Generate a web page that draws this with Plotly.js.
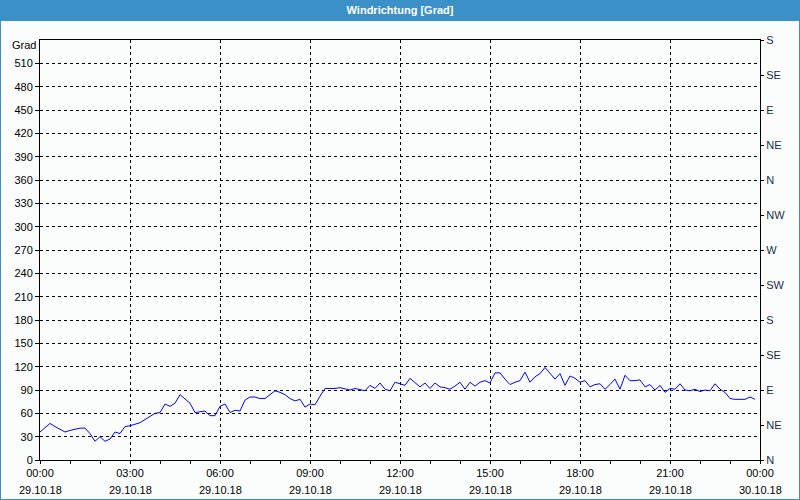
<!DOCTYPE html>
<html>
<head>
<meta charset="utf-8">
<script src="https://cdn.plot.ly/plotly-3.0.1.min.js"></script>
<style>
html,body{margin:0;padding:0;background:#fbfdfd;}
#chart{width:800px;height:500px;}
</style>
</head>
<body>
<div id="chart"></div>
<script>
// Wind direction every 10 minutes, 29.10.18 00:00 .. 23:50
const directionValues = [
  36,41,47,43,39,36,38,40,41,41,
  34,24,30,24,27,36,34,43,44,46,
  48,52,56,60,61,72,69,73,84,79,
  73,61,62,63,57,57,69,72,61,64,
  63,77,81,81,79,79,84,89,87,84,
  79,76,78,68,72,71,82,92,92,92,
  93,91,90,92,90,89,96,92,99,91,
  89,100,98,96,105,100,94,99,92,99,
  94,93,91,95,100,91,100,95,100,102,
  99,112,112,104,97,100,102,113,100,107,
  111,119,112,104,111,96,108,105,100,102,
  94,97,98,91,97,104,91,109,102,102,
  103,94,97,90,96,87,92,91,98,90,
  89,91,88,90,89,98,91,87,79,78,
  78,78,81,78
];
const startDay = '2018-10-29';
const stepMinutes = 10;

const tickTimes = ['2018-10-29 00:00','2018-10-29 03:00','2018-10-29 06:00','2018-10-29 09:00','2018-10-29 12:00','2018-10-29 15:00','2018-10-29 18:00','2018-10-29 21:00','2018-10-30 00:00'];
const timeLabels = ['00:00','03:00','06:00','09:00','12:00','15:00','18:00','21:00','00:00'];
const dateLabels = ['29.10.18','29.10.18','29.10.18','29.10.18','29.10.18','29.10.18','29.10.18','29.10.18','30.10.18'];
const gradTicks = [0,30,60,90,120,150,180,210,240,270,300,330,360,390,420,450,480,510];
const compassVals = [0,45,90,135,180,225,270,315,360,405,450,495,540];
const compassLabels = ['N','NE','E','SE','S','SW','W','NW','N','NE','E','SE','S'];

function pad(n){return (n<10?'0':'')+n;}
const times = directionValues.map((v,i)=>{
  const mins = i*stepMinutes;
  return startDay+' '+pad(Math.floor(mins/60))+':'+pad(mins%60);
});

const FONT = 'Liberation Sans, Arial, sans-serif';
const W = 720, H = 420, L = 40, T = 40;
const px = x => (x - L)/W;
const py = y => (T + H - y)/H;

const trace = {
  x: times, y: directionValues, type: 'scatter', mode: 'lines',
  line: {color: '#0000ff', width: 1}, hoverinfo: 'skip', showlegend: false
};
const trace2 = {x: [times[0]], y: [null], yaxis: 'y2', type: 'scatter', mode: 'lines', showlegend: false, hoverinfo: 'skip'};

const annotations = tickTimes.map((t,i)=>({
  x: t, xref: 'x', y: 0, yref: 'paper', yanchor: 'top', xanchor: 'center',
  yshift: -22, showarrow: false, text: dateLabels[i],
  font: {family: FONT, size: 11, color: '#000'}
}));
annotations.push({
  x: 0, xref: 'paper', xanchor: 'right', xshift: -2, y: 540, yref: 'y', yanchor: 'middle', yshift: -5,
  showarrow: false, text: 'Grad', font: {family: FONT, size: 11, color: '#000'}
});

const layout = {
  width: 800, height: 500,
  margin: {l: L, r: 40, t: T, b: 40, pad: 0},
  paper_bgcolor: '#fbfdfd', plot_bgcolor: '#fbfdfd',
  title: {text: '<b>Windrichtung [Grad]</b>', x: 0.5, xref: 'container', xanchor: 'center',
    y: 1 - 10/500, yref: 'container', yanchor: 'middle',
    font: {family: FONT, size: 11, color: '#ffffff'}},
  xaxis: {
    type: 'date', range: [tickTimes[0], tickTimes[tickTimes.length-1]],
    tickmode: 'array', tickvals: tickTimes, ticktext: timeLabels,
    ticks: 'outside', ticklen: 3, tickcolor: '#000', tickwidth: 1,
    minor: {tickmode: 'linear', tick0: tickTimes[0], dtick: 3600000, ticks: 'outside', ticklen: 3, tickcolor: '#000', showgrid: false},
    showline: true, linecolor: '#000', linewidth: 1, mirror: true,
    showgrid: true, gridcolor: '#000', gridwidth: 1, griddash: '3px,3px',
    zeroline: false, fixedrange: true,
    tickfont: {family: FONT, size: 11, color: '#000'}
  },
  yaxis: {
    range: [0, 540], tickmode: 'array', tickvals: gradTicks,
    ticks: 'outside', ticklen: 4, tickcolor: '#000',
    showline: true, linecolor: '#000', linewidth: 1,
    showgrid: true, gridcolor: '#000', gridwidth: 1, griddash: '3px,3px',
    zeroline: false, fixedrange: true,
    tickfont: {family: FONT, size: 11, color: '#000'}
  },
  yaxis2: {
    overlaying: 'y', side: 'right', range: [0, 540],
    tickmode: 'array', tickvals: compassVals, ticktext: compassLabels,
    ticks: 'outside', ticklen: 3, tickcolor: '#000',
    showline: true, linecolor: '#000', linewidth: 1,
    showgrid: false, zeroline: false, fixedrange: true,
    tickfont: {family: FONT, size: 11, color: '#1c2c48'}
  },
  shapes: [
    {type: 'rect', xref: 'paper', yref: 'paper', x0: px(0), x1: px(800), y0: py(21), y1: py(0),
     fillcolor: '#3c90c8', line: {width: 0}, layer: 'below'},
    {type: 'line', xref: 'paper', yref: 'paper', x0: px(0.5), x1: px(0.5), y0: py(0), y1: py(500),
     line: {color: '#3c90c8', width: 1}},
    {type: 'line', xref: 'paper', yref: 'paper', x0: px(799.5), x1: px(799.5), y0: py(0), y1: py(500),
     line: {color: '#3c90c8', width: 1}},
    {type: 'line', xref: 'paper', yref: 'paper', x0: px(0), x1: px(800), y0: py(499.5), y1: py(499.5),
     line: {color: '#3c90c8', width: 1}}
  ],
  annotations: annotations
};

Plotly.newPlot('chart', [trace, trace2], layout, {displayModeBar: false, staticPlot: true});
</script>
</body>
</html>
